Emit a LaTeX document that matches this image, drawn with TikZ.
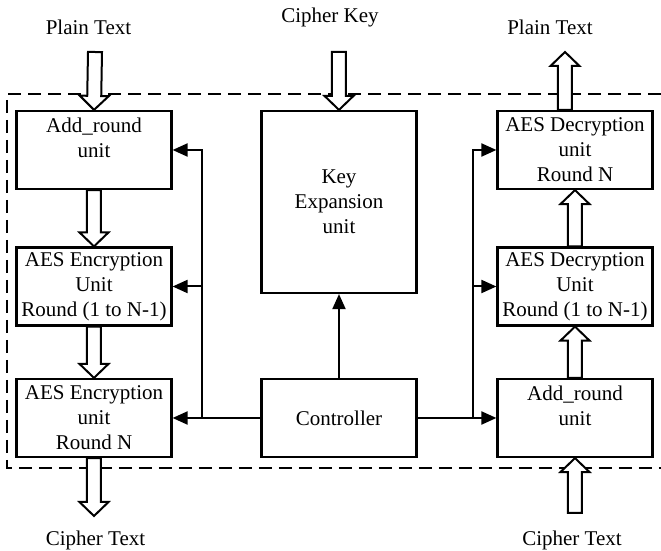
\documentclass[tikz,border=0pt]{standalone}
\usepackage{fontspec}
\setmainfont{Liberation Serif}
\usetikzlibrary{arrows.meta,positioning,calc}

\newcommand{\hollowarrow}[2]{%
  \coordinate (hb) at ($(#2)!7pt!(#1)$);
  \draw[hollow] ($(#1)!3.5pt!90:(#2)$) -- ($(hb)!3.5pt!90:(#2)$) -- ($(hb)!7.25pt!90:(#2)$) -- (#2)
    -- ($(hb)!7.25pt!-90:(#2)$) -- ($(hb)!3.5pt!-90:(#2)$) -- ($(#1)!3.5pt!-90:(#2)$) -- cycle;}

\begin{document}
\begin{tikzpicture}[x=0.5pt,y=-0.5pt,
  every node/.append style={font=\fontsize{10.5pt}{12.5pt}\selectfont},
  box/.style={draw,line width=1.1pt,minimum width=77.5pt,minimum height=39pt,align=center,inner sep=1pt},
  bus/.style={line width=1pt},
  tip/.style={-{Triangle[length=7.5pt,width=6.5pt]}},
  hollow/.style={draw,fill=white,line width=1pt}]
\useasboundingbox (0,0) rectangle (661,551);

\node[box] (enc0) at (94,150) {Add\_round\\unit\\~};
\node[box] (enc1) at (94,286.5) {AES Encryption\\Unit\\Round (1 to N-1)};
\node[box] (enc2) at (94,418) {AES Encryption\\unit\\Round N};
\node[box,minimum height=91pt] (key) at (339,202) {Key\\Expansion\\unit};
\node[box] (ctrl) at (339,418) {Controller};
\node[box] (dec0) at (575,150) {AES Decryption\\unit\\Round N};
\node[box] (dec1) at (575,286.5) {AES Decryption\\Unit\\Round (1 to N-1)};
\node[box] (dadd) at (575,418) {Add\_round\\unit\\~};

\node (ptl) at (88.5,27) {Plain Text};
\node (ck) at (330,17) {Cipher Key};
\node (ptr) at (550,27) {Plain Text};
\node (ctl) at (95.5,540) {Cipher Text};
\node (ctr) at (572,540) {Cipher Text};

\draw[dash pattern=on 6.5pt off 3.5pt,line width=1pt] (661,94) -- (7,94) -- (7,468) -- (661,468);

\coordinate (lbus) at (202,0);
\coordinate (rbus) at (473,0);
\draw[bus,tip] (ctrl.west) -- (enc2.east);
\draw[bus,tip] (lbus |- ctrl.west) |- (enc0.east);
\draw[bus,tip] (lbus |- enc1.east) -- (enc1.east);
\draw[bus,tip] (ctrl.east) -- (dadd.west);
\draw[bus,tip] (rbus |- ctrl.east) |- (dec0.west);
\draw[bus,tip] (rbus |- dec1.west) -- (dec1.west);
\draw[bus,tip] (ctrl.north) -- (key.south);

\coordinate (inl) at (95,52);
\coordinate (outl) at (94,516);
\coordinate (ink) at (339,52);
\coordinate (outr) at (565,52);
\coordinate (dec0up) at ([xshift=-5pt]dec0.north);
\coordinate (inr) at (575,513);
\hollowarrow{inl}{enc0.north}
\hollowarrow{enc0.south}{enc1.north}
\hollowarrow{enc1.south}{enc2.north}
\hollowarrow{enc2.south}{outl}
\hollowarrow{ink}{key.north}
\hollowarrow{dec0up}{outr}
\hollowarrow{dec1.north}{dec0.south}
\hollowarrow{dadd.north}{dec1.south}
\hollowarrow{inr}{dadd.south}
\end{tikzpicture}
\end{document}
